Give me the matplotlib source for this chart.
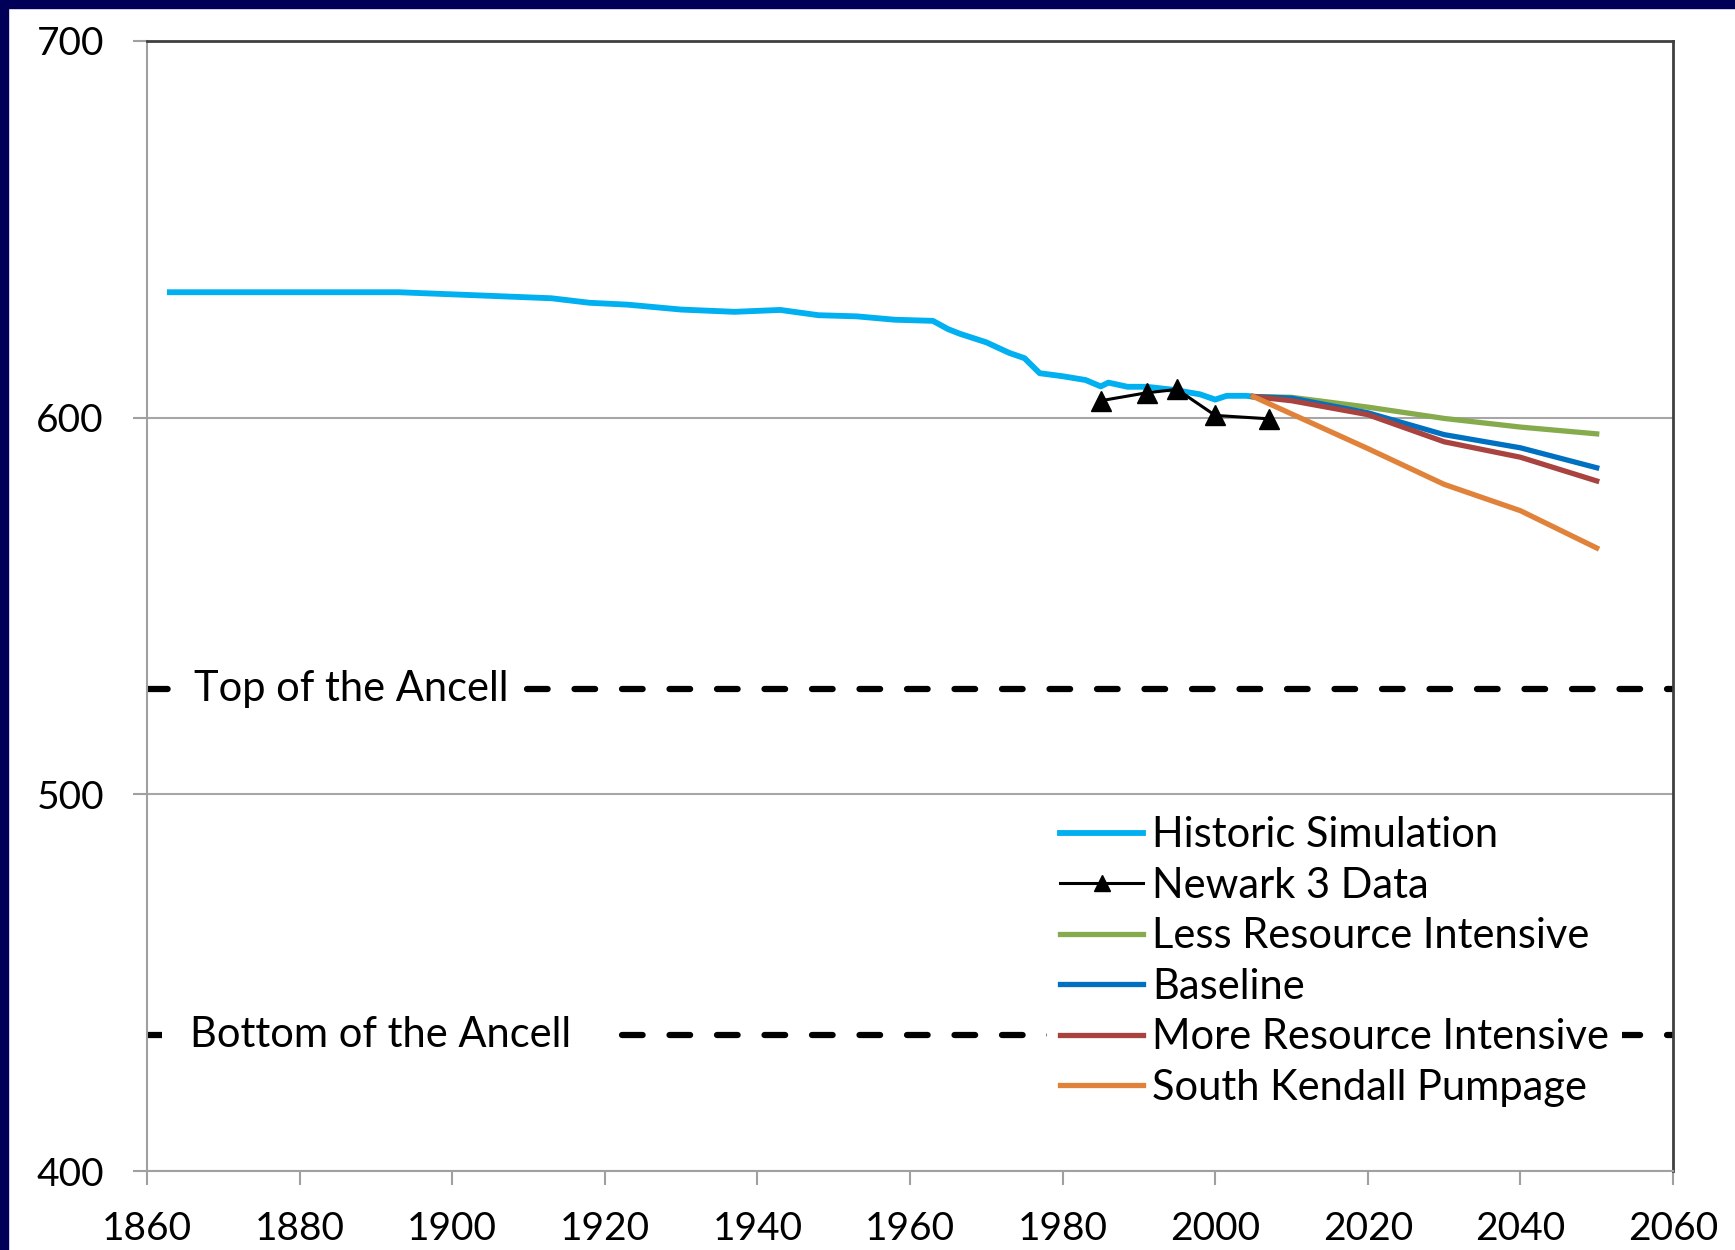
import numpy as np
import matplotlib.pyplot as plt
from matplotlib.patches import Rectangle

plt.rcParams['font.family'] = ['Lato', 'DejaVu Sans']

# ---- data ----
hist_year = [1863, 1893, 1913, 1918, 1923, 1930, 1937, 1943, 1948, 1953, 1958, 1963,
             1965, 1966.5, 1970, 1973, 1975, 1977, 1980, 1983, 1985, 1986, 1988.5,
             1991, 1994.5, 1998, 2000, 2001.5, 2004, 2005]
hist_val = [633.3, 633.3, 631.7, 630.5, 630.0, 628.7, 628.1, 628.6, 627.2, 626.9, 626.0, 625.7,
            623.5, 622.3, 620.0, 617.2, 615.8, 611.8, 611.0, 610.0, 608.3, 609.3, 608.2,
            608.2, 607.4, 606.2, 604.8, 605.8, 605.8, 605.6]

newark_year = [1985, 1991, 1995, 2000, 2007]
newark_val = [604.5, 606.6, 607.5, 600.6, 599.7]

proj_year = [2005, 2010, 2020, 2030, 2040, 2050]
less_val = [605.6, 605.4, 602.8, 599.8, 597.5, 595.7]
base_val = [605.6, 605.2, 601.3, 595.5, 592.0, 586.7]
more_val = [605.6, 604.5, 600.8, 593.6, 589.5, 583.2]
skp_val = [605.6, 601.0, 591.8, 582.3, 575.3, 565.4]

top_ancell = 528
bottom_ancell = 436

xticks = list(range(1860, 2061, 20))
yticks = [400, 500, 600, 700]

# ---- figure ----
fig = plt.figure(figsize=(17.35, 12.5), dpi=100)
ax = fig.add_axes([147/1735, 79/1250, 1526/1735, 1130/1250])

# navy slide frame
fig.patches.append(Rectangle((0, 1-8/1250), 1, 8/1250, transform=fig.transFigure,
                             color='#000058', zorder=0))
fig.patches.append(Rectangle((0, 0), 8/1735, 1, transform=fig.transFigure,
                             color='#000058', zorder=0))

ax.set_xlim(1860, 2060)
ax.set_ylim(400, 700)
ax.set_xticks(xticks)
ax.set_yticks(yticks)
ax.tick_params(axis='both', labelsize=28, color='#a0a0a0', length=10, width=1.5, direction='out')
ax.tick_params(axis='y', pad=21)
ax.tick_params(axis='x', pad=19)
ax.grid(axis='y', color='#a6a6a6', lw=1.5)
ax.set_axisbelow(True)
for s in ['left', 'bottom']:
    ax.spines[s].set_color('#a0a0a0')
    ax.spines[s].set_linewidth(1.5)
for s in ['top', 'right']:
    ax.spines[s].set_color('#404040')
    ax.spines[s].set_linewidth(2)

# aquifer markers
for yv in [top_ancell, bottom_ancell]:
    ax.axhline(yv, color='black', lw=4.5, dashes=(3.3, 4.3), dash_capstyle='round', zorder=2)
ax.text(1866.2, top_ancell, 'Top of the Ancell', fontsize=30, va='center', ha='left',
        bbox=dict(facecolor='white', edgecolor='none', pad=6), zorder=3)
ax.text(1865.6, bottom_ancell, 'Bottom of the Ancell', fontsize=30, va='center', ha='left',
        bbox=dict(facecolor='white', edgecolor='none', pad=20), zorder=3)

ax.plot(hist_year, hist_val, color='#00B0F0', lw=4.2, label='Historic Simulation', zorder=4)
ax.plot(newark_year, newark_val, color='black', lw=2.2, marker='^', ms=14,
        label='Newark 3 Data', zorder=6)
ax.plot(proj_year, less_val, color='#86AB4C', lw=3.8, label='Less Resource Intensive', zorder=5)
ax.plot(proj_year, base_val, color='#0070C0', lw=3.8, label='Baseline', zorder=5)
ax.plot(proj_year, more_val, color='#A9433F', lw=3.8, label='More Resource Intensive', zorder=5)
ax.plot(proj_year, skp_val, color='#E0823A', lw=3.8, label='South Kendall Pumpage', zorder=5)

leg = ax.legend(loc='upper left', bbox_to_anchor=(0.590, 0.325), fontsize=30,
                frameon=True, fancybox=False, framealpha=1, edgecolor='none',
                handlelength=2.0, handletextpad=0.22, labelspacing=0.3,
                borderpad=0.3, borderaxespad=0)
leg.set_zorder(7)
for h in leg.legend_handles:
    h.set_markersize(12)

fig.savefig('out.png', dpi=100)
